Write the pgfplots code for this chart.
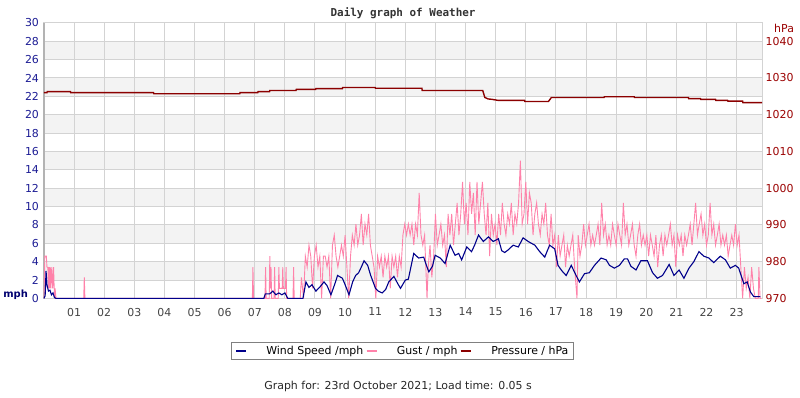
\documentclass[border=0pt]{standalone}
\usepackage{fontspec}
\setmainfont{DejaVu Sans}
\newfontfamily\titlefont{DejaVu Sans Mono}
\usepackage{pgfplots}
\usepackage{pgfplotstable}
\pgfplotsset{compat=1.18}
\definecolor{windc}{HTML}{00008B}
\definecolor{gustc}{HTML}{FF82AA}
\definecolor{presc}{HTML}{8B0000}
\definecolor{gridc}{HTML}{D3D3D3}
\definecolor{bandc}{HTML}{F3F3F3}
\definecolor{mphc}{HTML}{1C1C94}
\definecolor{hpac}{HTML}{9A0000}
\definecolor{txtc}{HTML}{444444}

% hour of day, value
\pgfplotstableread{
h v
0.00 0.0
0.04 0.3
0.07 3.0
0.10 1.5
0.15 0.8
0.20 0.9
0.25 0.4
0.30 0.6
0.35 0.1
0.40 0.0
7.30 0.0
7.35 0.5
7.50 0.5
7.60 0.8
7.70 0.4
7.80 0.6
7.90 0.4
8.00 0.6
8.10 0.0
8.60 0.0
8.70 1.8
8.80 1.2
8.90 1.5
9.03 0.8
9.15 1.2
9.30 1.8
9.40 1.4
9.53 0.4
9.65 1.5
9.75 2.5
9.91 2.2
10.00 1.5
10.13 0.4
10.25 1.8
10.35 2.5
10.45 2.8
10.55 3.5
10.63 4.1
10.75 3.6
10.85 2.5
11.01 1.1
11.10 0.8
11.23 0.6
11.35 1.0
11.45 1.8
11.62 2.4
11.75 1.6
11.84 1.1
12.00 2.0
12.10 2.1
12.28 4.9
12.44 4.4
12.61 4.5
12.70 3.6
12.78 2.9
12.90 3.5
12.99 4.7
13.16 4.4
13.32 3.8
13.49 5.8
13.65 4.7
13.77 4.9
13.87 4.2
14.04 5.6
14.20 5.1
14.30 5.8
14.43 6.9
14.59 6.2
14.76 6.7
14.92 6.2
15.09 6.5
15.20 5.2
15.30 5.0
15.42 5.3
15.58 5.8
15.75 5.6
15.91 6.6
16.08 6.2
16.30 5.8
16.46 5.1
16.63 4.5
16.79 5.8
16.96 5.4
17.07 3.6
17.20 3.0
17.34 2.5
17.51 3.6
17.67 2.5
17.78 1.8
17.95 2.7
18.11 2.8
18.28 3.6
18.50 4.4
18.67 4.2
18.78 3.6
18.94 3.3
19.11 3.6
19.27 4.3
19.38 4.3
19.49 3.5
19.66 3.1
19.82 4.1
20.04 4.1
20.21 2.8
20.37 2.2
20.54 2.5
20.76 3.7
20.92 2.5
21.09 3.1
21.25 2.2
21.42 3.3
21.58 4.0
21.75 5.1
21.91 4.6
22.08 4.4
22.24 3.9
22.46 4.6
22.63 4.2
22.79 3.3
22.96 3.6
23.07 3.3
23.24 1.6
23.35 1.8
23.46 0.7
23.57 0.2
23.79 0.2
}\windtable

\pgfplotstableread{
h v
0.00 0
0.03 4.6
0.08 4.6
0.10 3.4
0.13 3.4
0.15 1.1
0.17 3.4
0.19 1.1
0.21 3.4
0.23 1.1
0.26 3.4
0.29 1.1
0.32 3.4
0.35 0
0.37 1.1
0.40 0
1.32 0
1.34 2.3
1.36 0
6.92 0
6.94 3.4
6.96 0
7.34 0
7.36 3.4
7.38 0
7.48 0
7.50 4.6
7.52 1.1
7.54 3.4
7.56 0
7.64 0
7.66 3.4
7.68 0
7.78 0
7.80 3.4
7.82 1.1
7.91 1.1
7.93 3.4
7.95 1.1
8.02 1.1
8.04 3.4
8.06 0
8.27 0
8.29 3.4
8.31 0
8.51 0
8.55 2.3
8.62 0
8.68 4.6
8.74 3.4
8.80 5.8
8.86 4.6
8.92 1.1
8.98 4.6
9.04 5.8
9.10 3.4
9.16 4.6
9.22 0
9.28 4.6
9.34 4.6
9.40 3.4
9.46 4.6
9.52 0
9.58 5.8
9.64 6.9
9.70 4.6
9.76 3.4
9.82 4.6
9.88 5.8
9.94 4.6
10.00 6.9
10.06 3.4
10.12 0
10.18 4.6
10.24 6.9
10.30 5.8
10.36 8.1
10.42 5.8
10.48 6.9
10.54 9.2
10.60 5.8
10.66 8.1
10.72 6.9
10.78 9.2
10.84 5.8
10.90 4.6
10.96 3.4
11.02 0
11.08 4.6
11.14 3.4
11.20 4.6
11.26 2.3
11.32 4.6
11.38 3.4
11.44 4.6
11.50 1.1
11.56 4.6
11.62 3.4
11.68 4.6
11.74 2.3
11.80 4.6
11.86 3.4
11.92 6.9
11.98 8.1
12.04 6.9
12.10 8.1
12.16 6.9
12.22 8.1
12.28 5.8
12.34 8.1
12.40 6.9
12.46 11.5
12.52 6.9
12.58 5.8
12.64 6.9
12.72 0
12.76 3.4
12.82 5.8
12.88 2.3
12.94 4.6
13.00 9.2
13.06 5.8
13.12 6.9
13.18 8.1
13.24 5.8
13.30 6.9
13.36 3.4
13.42 9.2
13.48 6.9
13.54 9.2
13.60 5.8
13.66 8.1
13.72 10.4
13.78 6.9
13.84 9.2
13.90 12.7
13.96 8.1
14.02 10.4
14.08 6.9
14.14 12.7
14.20 9.2
14.26 11.5
14.32 6.9
14.38 12.7
14.44 8.1
14.50 10.4
14.56 12.7
14.62 9.2
14.68 6.9
14.74 10.4
14.80 4.6
14.86 9.2
14.92 6.9
14.98 8.1
15.04 5.8
15.10 9.2
15.16 6.9
15.22 10.4
15.28 8.1
15.34 6.9
15.40 9.2
15.46 8.1
15.52 10.4
15.58 6.9
15.64 9.2
15.70 8.1
15.76 10.4
15.82 15.0
15.88 8.1
15.94 9.2
16.00 12.7
16.06 8.1
16.12 11.5
16.18 10.4
16.24 6.9
16.30 9.2
16.36 10.4
16.42 8.1
16.48 6.9
16.54 9.2
16.60 8.1
16.66 10.4
16.72 6.9
16.78 5.8
16.84 9.2
16.90 5.8
16.96 6.9
17.02 3.4
17.08 6.9
17.14 4.6
17.20 5.8
17.26 6.9
17.32 3.4
17.38 5.8
17.44 4.6
17.50 5.8
17.56 6.9
17.62 3.4
17.70 0
17.74 6.9
17.80 4.6
17.86 5.8
17.92 8.1
17.98 5.8
18.04 6.9
18.10 8.1
18.16 5.8
18.22 6.9
18.28 5.8
18.34 6.9
18.40 8.1
18.46 5.8
18.52 10.4
18.58 6.9
18.64 8.1
18.70 5.8
18.76 6.9
18.82 5.8
18.88 8.1
18.94 6.9
19.00 5.8
19.06 8.1
19.12 6.9
19.18 5.8
19.24 10.4
19.30 6.9
19.36 8.1
19.42 5.8
19.48 6.9
19.54 8.1
19.60 5.8
19.66 4.6
19.72 6.9
19.78 8.1
19.84 5.8
19.90 6.9
19.96 5.8
20.02 6.9
20.08 4.6
20.14 6.9
20.20 5.8
20.26 4.6
20.32 6.9
20.38 3.4
20.44 5.8
20.50 6.9
20.56 4.6
20.62 6.9
20.68 5.8
20.74 6.9
20.80 8.1
20.86 5.8
20.92 6.9
20.98 3.4
21.04 6.9
21.10 5.8
21.16 6.9
21.22 4.6
21.28 6.9
21.34 5.8
21.40 6.9
21.46 8.1
21.52 5.8
21.58 8.1
21.64 10.4
21.70 6.9
21.76 8.1
21.82 9.2
21.88 6.9
21.94 8.1
22.00 5.8
22.06 6.9
22.12 10.4
22.18 6.9
22.24 8.1
22.30 5.8
22.36 6.9
22.42 8.1
22.48 5.8
22.54 6.9
22.60 5.8
22.66 6.9
22.72 4.6
22.78 5.8
22.84 6.9
22.90 5.8
22.96 8.1
23.02 5.8
23.08 6.9
23.14 3.4
23.20 0
23.26 3.4
23.32 1.1
23.38 2.3
23.44 0
23.50 3.4
23.56 1.1
23.62 0
23.72 0
23.74 3.4
23.78 0
23.82 0
}\gusttable

\pgfplotstableread{
h v
0.00 1026.0
0.10 1026.0
0.11 1026.3
0.88 1026.3
0.89 1026.0
3.64 1026.0
3.65 1025.7
6.50 1025.7
6.51 1026.0
7.10 1026.0
7.11 1026.3
7.49 1026.3
7.50 1026.6
8.37 1026.6
8.38 1026.9
9.02 1026.9
9.03 1027.1
9.91 1027.1
9.92 1027.4
11.00 1027.4
11.01 1027.2
12.55 1027.2
12.56 1026.6
14.57 1026.6
14.64 1024.7
14.75 1024.3
14.87 1024.2
15.09 1023.9
15.96 1023.9
15.97 1023.6
16.75 1023.6
16.85 1024.7
18.60 1024.7
18.61 1024.9
19.60 1024.9
19.61 1024.7
21.40 1024.7
21.41 1024.4
21.80 1024.4
21.81 1024.2
22.30 1024.2
22.31 1023.9
22.70 1023.9
22.71 1023.7
23.20 1023.7
23.21 1023.3
23.85 1023.3
}\prestable

\begin{document}
\begin{tikzpicture}[font=\fontsize{11pt}{13pt}\selectfont]
% background bands
\begin{axis}[
  scale only axis, width=722pt, height=277pt,
  at={(0pt,0pt)}, anchor=south west,
  xmin=0, xmax=23.85, ymin=0, ymax=30,
  hide axis,
]
\fill[bandc] (axis cs:0,2) rectangle (axis cs:23.85,4)
  (axis cs:0,6) rectangle (axis cs:23.85,8)
  (axis cs:0,10) rectangle (axis cs:23.85,12)
  (axis cs:0,14) rectangle (axis cs:23.85,16)
  (axis cs:0,18) rectangle (axis cs:23.85,20)
  (axis cs:0,22) rectangle (axis cs:23.85,24)
  (axis cs:0,26) rectangle (axis cs:23.85,28);
\end{axis}
\begin{axis}[
  scale only axis, width=722pt, height=277pt,
  at={(0pt,0pt)}, anchor=south west,
  xmin=0, xmax=23.85, ymin=0, ymax=30,
  xtick={1,...,23},
  xticklabels={01,02,03,04,05,06,07,08,09,10,11,12,13,14,15,16,17,18,19,20,21,22,23},
  ytick={0,2,...,30},
  grid=major, major grid style={gridc, line width=1pt},
  major tick length=0pt,
  axis line style={gridc, line width=1pt},
  /pgf/number format/assume math mode=true,
  yticklabel style={mphc, xshift=-1.5pt},
  xticklabel style={txtc, yshift=-6pt},
  clip=false,
]
\draw[gridc!85!black, line width=2pt] (axis cs:0,0) -- (axis cs:0,30);
\addplot[gustc, line width=0.9pt, no markers] table[x=h, y=v] {\gusttable};
\addplot[windc, line width=1.1pt, no markers] table[x=h, y=v] {\windtable};
\end{axis}
\begin{axis}[
  scale only axis, width=722pt, height=277pt,
  at={(0pt,0pt)}, anchor=south west,
  xmin=0, xmax=23.85, ymin=970, ymax=1045,
  axis x line=none, axis y line*=right,
  y axis line style={draw=none},
  ytick={970,980,...,1040}, major tick length=0pt,
  /pgf/number format/assume math mode=true,
  /pgf/number format/1000 sep={},
  yticklabel style={hpac},
  clip=false,
  legend columns=3,
  legend style={at={(0.4993,-0.191)}, anchor=center, draw=gray, line width=1pt,
    fill=white, inner ysep=2pt, inner xsep=3pt,
    /tikz/every even column/.append style={column sep=0pt},
    /tikz/every odd column/.append style={column sep=13pt}},
  legend image code/.code={\draw[#1, line width=2.5pt] (0pt,0pt) -- (10pt,0pt); \path (15pt,0pt);},
]
\addlegendimage{windc}
\addlegendentry{Wind Speed /mph}
\addlegendimage{gustc}
\addlegendentry{Gust / mph}
\addplot[presc, line width=1.4pt, no markers] table[x=h, y=v] {\prestable};
\addlegendentry{Pressure / hPa}
\end{axis}
\node[font=\titlefont\bfseries\fontsize{11pt}{13pt}\selectfont, color=black!80] at (361pt,287pt) {Daily graph of Weather};
\node[font=\bfseries\fontsize{10pt}{12pt}\selectfont, color=windc!80!black] at (-28.5pt,4pt) {mph};
\node[color=hpac] at (744pt,271pt) {hPa};
\node[color=black!85] at (356pt,-88pt) {Graph for: 23rd October 2021; Load time: 0.05 s};
\path (-40pt,-100pt) rectangle (760pt,300pt);
\end{tikzpicture}
\end{document}
